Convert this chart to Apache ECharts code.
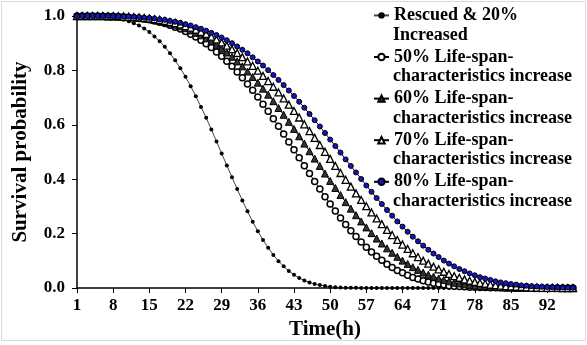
<!DOCTYPE html>
<html>
<head>
<meta charset="utf-8">
<script src="https://cdn.jsdelivr.net/npm/echarts@6/dist/echarts.min.js"></script>
<style>
  html, body { margin: 0; padding: 0; background: #fff; }
  #chart { width: 587px; height: 345px; }
</style>
</head>
<body>
<div id="chart"></div>
<script>
// time in hours, 1..97
const times = Array.from({ length: 97 }, (_, i) => String(i + 1));

const rescued = [
  1.000, 1.000, 1.000, 1.000, 0.999, 0.998, 0.996, 0.994, 0.991, 0.986,
  0.981, 0.973, 0.965, 0.954, 0.941, 0.925, 0.907, 0.887, 0.863, 0.837,
  0.808, 0.777, 0.742, 0.705, 0.666, 0.626, 0.583, 0.539, 0.495, 0.451,
  0.407, 0.364, 0.322, 0.282, 0.244, 0.209, 0.177, 0.148, 0.122, 0.099,
  0.080, 0.063, 0.049, 0.037, 0.028, 0.021, 0.015, 0.011, 0.008, 0.005,
  0.003, 0.002, 0.001, 0.001, 0.001, 0, 0, 0, 0, 0,
  0, 0, 0, 0, 0, 0, 0, 0, 0, 0,
  0, 0, 0, 0, 0, 0, 0, 0, 0, 0,
  0, 0, 0, 0, 0, 0, 0, 0, 0, 0,
  0, 0, 0, 0, 0, 0, 0
];

const life50 = [
  1.000, 1.000, 1.000, 1.000, 1.000, 0.999, 0.999, 0.999, 0.998, 0.997,
  0.995, 0.994, 0.991, 0.989, 0.986, 0.982, 0.977, 0.972, 0.966, 0.959,
  0.952, 0.943, 0.933, 0.923, 0.911, 0.898, 0.884, 0.868, 0.852, 0.834,
  0.815, 0.794, 0.773, 0.750, 0.727, 0.702, 0.676, 0.650, 0.622, 0.595,
  0.566, 0.537, 0.508, 0.479, 0.450, 0.421, 0.392, 0.364, 0.336, 0.309,
  0.283, 0.258, 0.234, 0.211, 0.190, 0.169, 0.150, 0.133, 0.117, 0.102,
  0.088, 0.076, 0.065, 0.056, 0.047, 0.039, 0.033, 0.027, 0.022, 0.018,
  0.015, 0.012, 0.009, 0.007, 0.006, 0.005, 0.003, 0.003, 0.002, 0.002,
  0.001, 0.001, 0.001, 0, 0, 0, 0, 0, 0, 0,
  0, 0, 0, 0, 0, 0, 0
];

const life60 = [
  1.000, 1.000, 1.000, 1.000, 1.000, 1.000, 0.999, 0.999, 0.998, 0.997,
  0.996, 0.995, 0.993, 0.991, 0.989, 0.986, 0.982, 0.978, 0.973, 0.968,
  0.962, 0.955, 0.947, 0.938, 0.929, 0.918, 0.907, 0.894, 0.880, 0.866,
  0.850, 0.833, 0.815, 0.796, 0.776, 0.755, 0.733, 0.711, 0.687, 0.662,
  0.637, 0.611, 0.585, 0.558, 0.531, 0.503, 0.476, 0.449, 0.421, 0.394,
  0.368, 0.342, 0.316, 0.292, 0.268, 0.245, 0.223, 0.202, 0.182, 0.164,
  0.146, 0.130, 0.115, 0.101, 0.089, 0.077, 0.067, 0.057, 0.049, 0.042,
  0.035, 0.030, 0.025, 0.020, 0.017, 0.014, 0.011, 0.009, 0.007, 0.006,
  0.005, 0.004, 0.003, 0.002, 0.002, 0.001, 0.001, 0.001, 0.001, 0,
  0, 0, 0, 0, 0, 0, 0
];

const life70 = [
  1.000, 1.000, 1.000, 1.000, 1.000, 1.000, 0.999, 0.999, 0.999, 0.998,
  0.997, 0.996, 0.995, 0.993, 0.991, 0.988, 0.986, 0.982, 0.978, 0.974,
  0.969, 0.963, 0.957, 0.950, 0.942, 0.934, 0.924, 0.914, 0.903, 0.891,
  0.878, 0.864, 0.849, 0.833, 0.817, 0.799, 0.780, 0.761, 0.740, 0.719,
  0.697, 0.674, 0.651, 0.627, 0.602, 0.577, 0.552, 0.526, 0.501, 0.475,
  0.449, 0.423, 0.398, 0.373, 0.348, 0.324, 0.301, 0.278, 0.256, 0.235,
  0.214, 0.195, 0.177, 0.160, 0.144, 0.128, 0.114, 0.101, 0.090, 0.079,
  0.069, 0.060, 0.052, 0.044, 0.038, 0.032, 0.027, 0.023, 0.019, 0.016,
  0.013, 0.011, 0.009, 0.007, 0.006, 0.005, 0.004, 0.003, 0.002, 0.002,
  0.001, 0.001, 0.001, 0.001, 0, 0, 0
];

const life80 = [
  1.000, 1.000, 1.000, 1.000, 1.000, 1.000, 1.000, 0.999, 0.999, 0.998,
  0.998, 0.997, 0.996, 0.994, 0.993, 0.991, 0.988, 0.986, 0.982, 0.979,
  0.975, 0.970, 0.965, 0.959, 0.953, 0.946, 0.938, 0.930, 0.921, 0.911,
  0.900, 0.888, 0.876, 0.863, 0.848, 0.833, 0.818, 0.801, 0.783, 0.765,
  0.746, 0.726, 0.706, 0.685, 0.663, 0.640, 0.617, 0.594, 0.570, 0.546,
  0.522, 0.498, 0.473, 0.449, 0.425, 0.401, 0.377, 0.354, 0.331, 0.309,
  0.287, 0.266, 0.245, 0.226, 0.207, 0.189, 0.172, 0.156, 0.141, 0.127,
  0.114, 0.101, 0.090, 0.080, 0.070, 0.062, 0.054, 0.047, 0.040, 0.035,
  0.030, 0.025, 0.021, 0.018, 0.015, 0.013, 0.010, 0.009, 0.007, 0.006,
  0.005, 0.004, 0.003, 0.002, 0.002, 0.002, 0.001
];

const seriesNames = ['Rescued & 20%', '50% Life-span-', '60% Life-span-', '70% Life-span-', '80% Life-span-'];
const secondLines = ['Increased', 'characteristics increase', 'characteristics increase', 'characteristics increase', 'characteristics increase'];

const FONT = '"Liberation Serif", "Times New Roman", serif';
const chart = echarts.init(document.getElementById('chart'), null, { renderer: 'canvas' });

const lineBase = { type: 'line', showSymbol: true, showAllSymbol: true, animation: false };

const option = {
  backgroundColor: '#fff',
  textStyle: { fontFamily: FONT },
  grid: { left: 77, right: 14, top: 16, bottom: 55 },
  legend: {
    orient: 'vertical',
    left: 373,
    top: 5,
    padding: 0,
    itemWidth: 15,
    itemHeight: 8,
    itemGap: 20.8,
    textStyle: { fontFamily: FONT, fontSize: 18, fontWeight: 'bold', color: '#000', lineHeight: 20.8 },
    data: seriesNames
  },
  graphic: [
    {
      type: 'rect', silent: true,
      shape: { x: 1.5, y: 1.5, width: 584, height: 339 },
      style: { fill: 'none', stroke: '#d9d9d9', lineWidth: 1 }
    }
  ].concat(secondLines.map((t, i) => ({
    type: 'text', left: 393, top: 26 + i * 41.6, silent: true, z: 10,
    style: { text: t, fill: '#000', font: 'bold 18px ' + FONT }
  }))),
  xAxis: {
    type: 'category',
    data: times,
    boundaryGap: false,
    name: 'Time(h)',
    nameLocation: 'middle',
    nameGap: 30,
    nameTextStyle: { fontFamily: FONT, fontSize: 21, fontWeight: 'bold', color: '#000' },
    axisLine: { lineStyle: { color: '#000', width: 1.5 } },
    axisTick: { interval: 6, length: 5, lineStyle: { color: '#000' } },
    axisLabel: { interval: 6, margin: 9, fontFamily: FONT, fontSize: 17, fontWeight: 'bold', color: '#000' },
    splitLine: { show: false }
  },
  yAxis: {
    type: 'value',
    min: 0,
    max: 1,
    interval: 0.2,
    name: 'Survival probability',
    nameLocation: 'middle',
    nameGap: 46,
    nameTextStyle: { fontFamily: FONT, fontSize: 21, fontWeight: 'bold', color: '#000' },
    axisLine: { show: true, lineStyle: { color: '#000', width: 1.5 } },
    axisTick: { show: true, length: 5, lineStyle: { color: '#000' } },
    axisLabel: { margin: 12, fontFamily: FONT, fontSize: 17, fontWeight: 'bold', color: '#000', formatter: v => v.toFixed(1) },
    splitLine: { show: false }
  },
  series: [
    Object.assign({}, lineBase, {
      name: seriesNames[0], data: rescued,
      symbol: 'circle', symbolSize: 4,
      itemStyle: { color: '#000' },
      lineStyle: { color: '#444', width: 1 }
    }),
    Object.assign({}, lineBase, {
      name: seriesNames[1], data: life50,
      symbol: 'circle', symbolSize: 6,
      itemStyle: { color: '#fff', borderColor: '#000', borderWidth: 1.5 },
      lineStyle: { color: '#000', width: 1 }
    }),
    Object.assign({}, lineBase, {
      name: seriesNames[2], data: life60,
      symbol: 'triangle', symbolSize: 7,
      itemStyle: { color: '#333', borderColor: '#000', borderWidth: 1 },
      lineStyle: { color: '#000', width: 1 }
    }),
    Object.assign({}, lineBase, {
      name: seriesNames[3], data: life70,
      symbol: 'triangle', symbolSize: 7,
      itemStyle: { color: '#fff', borderColor: '#000', borderWidth: 1.3 },
      lineStyle: { color: '#000', width: 1 }
    }),
    Object.assign({}, lineBase, {
      name: seriesNames[4], data: life80,
      symbol: 'circle', symbolSize: 5,
      itemStyle: { color: '#1515c8', borderColor: '#000', borderWidth: 1 },
      lineStyle: { color: '#000', width: 1 }
    })
  ]
};

chart.setOption(option);
</script>
</body>
</html>
